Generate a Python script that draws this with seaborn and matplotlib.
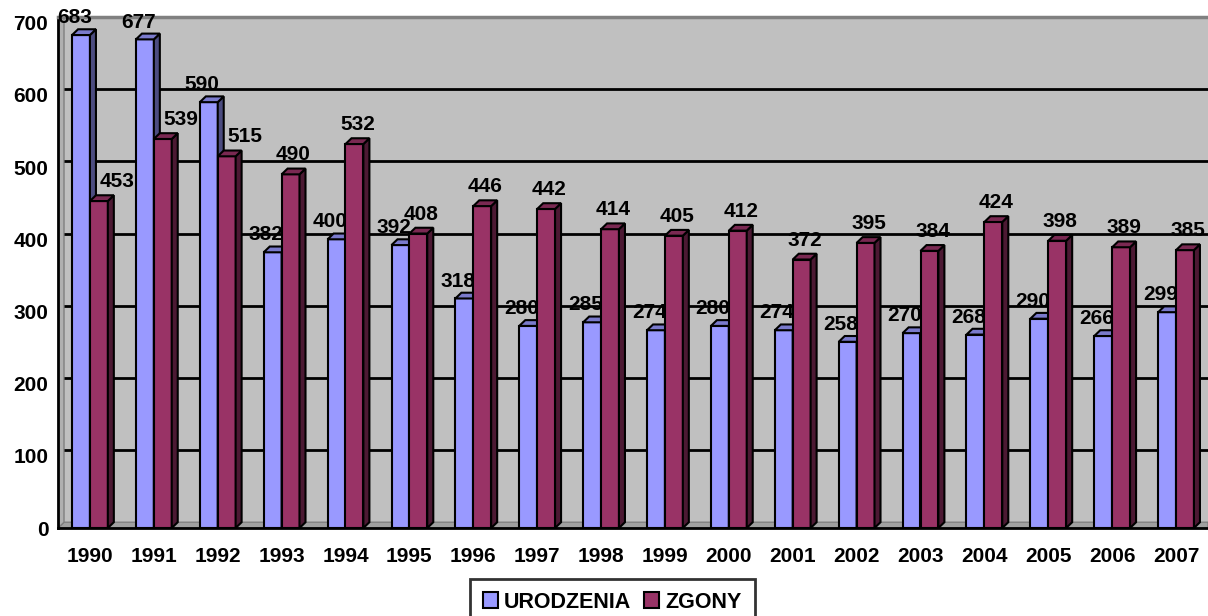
import matplotlib.pyplot as plt
import pandas as pd
import seaborn as sns
from matplotlib.patches import Polygon

# Data
years = ["1990", "1991", "1992", "1993", "1994", "1995", "1996", "1997", "1998",
         "1999", "2000", "2001", "2002", "2003", "2004", "2005", "2006", "2007"]
urodzenia = [683, 677, 590, 382, 400, 392, 318, 280, 285, 274, 280, 274, 258, 270, 268, 290, 266, 299]
zgony = [453, 539, 515, 490, 532, 408, 446, 442, 414, 405, 412, 372, 395, 384, 424, 398, 389, 385]
series = ["URODZENIA", "ZGONY"]

df = pd.DataFrame({
    "rok": years * 2,
    "liczba": urodzenia + zgony,
    "seria": [series[0]] * len(years) + [series[1]] * len(years),
})

front = ["#9999FF", "#993366"]
side = ["#4C4C80", "#4C1933"]
top = ["#7A7ACC", "#7A2952"]

sns.set_style("white")
plt.rcParams["font.family"] = ["Liberation Sans", "DejaVu Sans"]
plt.rcParams["font.weight"] = "bold"
plt.rcParams["text.color"] = "black"
plt.rcParams["xtick.color"] = "black"
plt.rcParams["ytick.color"] = "black"

fig = plt.figure(figsize=(12.08, 6.16), dpi=100)
ax = fig.add_axes([58 / 1208, 1 - 528 / 616, 1 - 58 / 1208, (528 - 17) / 616])

ymax = 708
dx, dy = 0.094, 8  # depth of the 3D look, in data units

ax.set_facecolor("#C0C0C0")
sns.barplot(data=df, x="rok", y="liczba", hue="seria", palette=front, width=0.56,
            edgecolor="black", linewidth=1.5, saturation=1, ax=ax, zorder=3)

n = len(years)
ax.set_xlim(-0.5, n - 0.5)
ax.set_ylim(0, ymax)

# floor and left wall
ax.add_patch(Polygon([(-0.5, 0), (-0.5 + dx, dy), (n - 0.5, dy), (n - 0.5, 0)],
                     closed=True, facecolor="#A0A0A0", edgecolor="#808080", lw=1, zorder=1))
ax.add_patch(Polygon([(-0.5, 0), (-0.5 + dx, dy), (-0.5 + dx, ymax), (-0.5, ymax)],
                     closed=True, facecolor="#B0B0B0", edgecolor="#808080", lw=1, zorder=1))

# gridlines on the back wall
yticks = [0, 100, 200, 300, 400, 500, 600, 700]
ax.hlines([t + dy for t in yticks[1:-1]], -0.5 + dx, n - 0.5, colors="black", lw=2, zorder=2)

# 3D sides, tops and labels; blue series sits behind the maroon one
layer = [2.6, 3.0]
for i, cont in enumerate(ax.containers):
    for j, bar in enumerate(cont):
        bar.set_zorder(layer[i])
        x, w, h = bar.get_x(), bar.get_width(), bar.get_height()
        ax.add_patch(Polygon([(x + w, 0), (x + w + dx, dy), (x + w + dx, h + dy), (x + w, h)],
                             closed=True, facecolor=side[i], edgecolor="black", lw=1.5, zorder=layer[i]))
        ax.add_patch(Polygon([(x, h), (x + dx, h + dy), (x + w + dx, h + dy), (x + w, h)],
                             closed=True, facecolor=top[i], edgecolor="black", lw=1.5, zorder=layer[i]))
        if i == 0:
            shift, lift, z = -7, 1.5, 2.8
        else:
            # move aside when the blue bar next to it is taller
            shift = 11 if urodzenia[j] > zgony[j] else 0
            lift, z = 3, 5
        ax.annotate(f"{h:.0f}", (x + w / 2 + dx / 2, h + dy), xytext=(shift, lift),
                    textcoords="offset points", ha="center", va="bottom",
                    fontsize=15, fontweight="bold", zorder=z)

ax.set_yticks(yticks)
ax.set_xticks(range(n))
ax.set_xticklabels(years)
ax.set_xticks([i + 0.5 for i in range(-1, n)], minor=True)
ax.tick_params(axis="x", which="major", length=0, pad=14, labelsize=15)
ax.tick_params(axis="x", which="minor", length=6, width=2, color="black", direction="out")
ax.tick_params(axis="y", length=5, width=2, color="black", direction="out", labelsize=15, pad=2)
for lab in ax.get_xticklabels() + ax.get_yticklabels():
    lab.set_fontweight("bold")
ax.set_xlabel("")
ax.set_ylabel("")

for s in ["left", "bottom"]:
    ax.spines[s].set_color("black")
    ax.spines[s].set_linewidth(2)
ax.spines["top"].set_color("#808080")
ax.spines["top"].set_linewidth(2.5)
ax.spines["right"].set_visible(False)

sns.move_legend(ax, "upper center", bbox_to_anchor=(0.482, -0.078), ncol=2, title=None,
                frameon=True, fancybox=False, fontsize=15.5, handlelength=0.7, handleheight=0.7,
                handletextpad=0.3, columnspacing=0.6, borderpad=0.6)
leg = ax.get_legend()
leg.get_frame().set_edgecolor("black")
leg.get_frame().set_linewidth(2)
for t in leg.get_texts():
    t.set_fontweight("bold")
for hdl in leg.legend_handles:
    hdl.set_edgecolor("black")
    hdl.set_linewidth(1.5)

fig.savefig("out.png", dpi=100)
